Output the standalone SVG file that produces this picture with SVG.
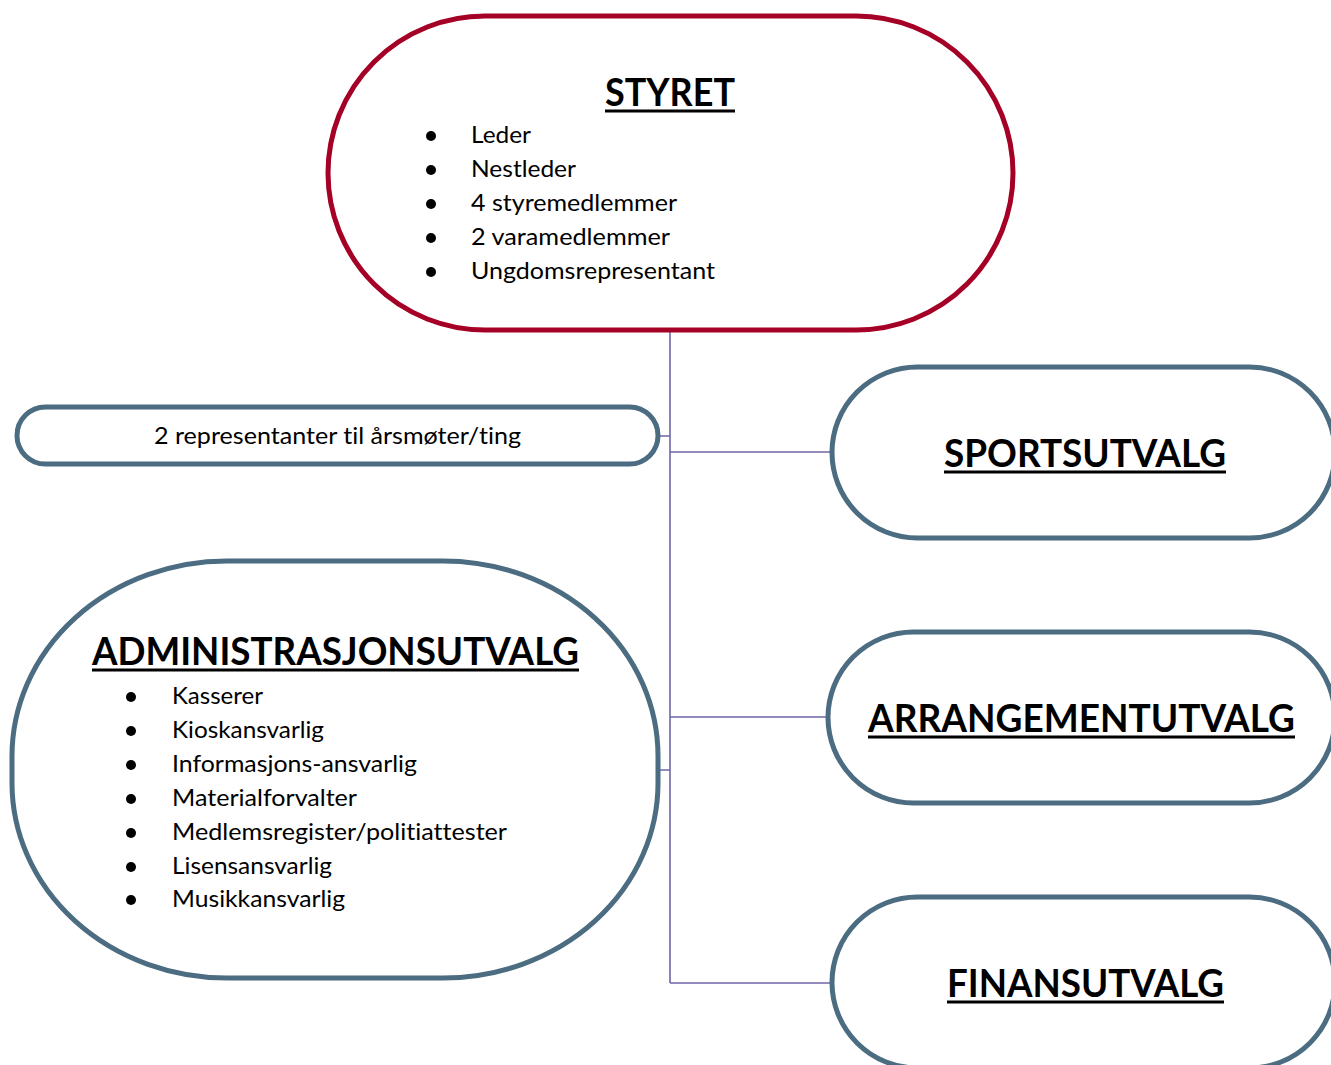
<svg xmlns="http://www.w3.org/2000/svg" width="1331" height="1065" viewBox="0 0 1331 1065">
<style>
.red{fill:#fff;stroke:#A50026;stroke-width:5}
.blue{fill:#fff;stroke:#4B6C81;stroke-width:5}
.conn{stroke:#6F67A6;stroke-width:1.6;fill:none}
.title{font-family:Lato,"Open Sans","Liberation Sans",sans-serif;font-weight:bold;font-size:38px;fill:#000;font-variant-ligatures:none}
.body{font-family:Lato,"Open Sans","Liberation Sans",sans-serif;font-size:23px;fill:#000;font-variant-ligatures:none}
.ul{stroke:#000;stroke-width:3}
.dot{fill:#000}
</style>
<rect width="1331" height="1065" fill="#fff"/>
<g id="connectors">
<path class="conn" d="M670 330 V983 M670 452 H832 M670 717 H828 M670 983 H832 M658 436 H670 M658 770 H670"/>
</g>
<g id="styret">
<rect class="red" x="328" y="16" width="685" height="314" rx="157" ry="157"/>
<text class="title" x="670" y="106" text-anchor="middle" textLength="130" lengthAdjust="spacingAndGlyphs">STYRET</text>
<line class="ul" x1="605" y1="111" x2="735" y2="111"/>
<circle class="dot" cx="431" cy="136" r="5"/>
<circle class="dot" cx="431" cy="170" r="5"/>
<circle class="dot" cx="431" cy="204" r="5"/>
<circle class="dot" cx="431" cy="238" r="5"/>
<circle class="dot" cx="431" cy="272" r="5"/>
<text class="body" x="471" y="143" textLength="60" lengthAdjust="spacingAndGlyphs">Leder</text>
<text class="body" x="471" y="177" textLength="105" lengthAdjust="spacingAndGlyphs">Nestleder</text>
<text class="body" x="471" y="211" textLength="206" lengthAdjust="spacingAndGlyphs">4 styremedlemmer</text>
<text class="body" x="471" y="245" textLength="199" lengthAdjust="spacingAndGlyphs">2 varamedlemmer</text>
<text class="body" x="471" y="279" textLength="244" lengthAdjust="spacingAndGlyphs">Ungdomsrepresentant</text>
</g>
<g id="representanter">
<rect class="blue" x="17" y="407" width="641" height="57" rx="28.5" ry="28.5"/>
<text class="body" x="154" y="444" textLength="367" lengthAdjust="spacingAndGlyphs">2 representanter til årsmøter/ting</text>
</g>
<g id="sportsutvalg">
<rect class="blue" x="832" y="367" width="503" height="171" rx="85.5" ry="85.5"/>
<text class="title" x="944" y="467" textLength="282" lengthAdjust="spacingAndGlyphs">SPORTSUTVALG</text>
<line class="ul" x1="944" y1="472" x2="1226" y2="472"/>
</g>
<g id="arrangementutvalg">
<rect class="blue" x="828" y="632" width="507" height="171" rx="85.5" ry="85.5"/>
<text class="title" x="868" y="732" textLength="427" lengthAdjust="spacingAndGlyphs">ARRANGEMENTUTVALG</text>
<line class="ul" x1="868" y1="737" x2="1295" y2="737"/>
</g>
<g id="finansutvalg">
<rect class="blue" x="832" y="897" width="503" height="171" rx="85.5" ry="85.5"/>
<text class="title" x="947" y="997" textLength="277" lengthAdjust="spacingAndGlyphs">FINANSUTVALG</text>
<line class="ul" x1="947" y1="1002" x2="1224" y2="1002"/>
</g>
<g id="administrasjonsutvalg">
<rect class="blue" x="12" y="561" width="646" height="417" rx="215" ry="195"/>
<text class="title" x="92" y="665" textLength="487" lengthAdjust="spacingAndGlyphs">ADMINISTRASJONSUTVALG</text>
<line class="ul" x1="92" y1="670" x2="579" y2="670"/>
<circle class="dot" cx="131" cy="697" r="5"/>
<circle class="dot" cx="131" cy="731" r="5"/>
<circle class="dot" cx="131" cy="765" r="5"/>
<circle class="dot" cx="131" cy="799" r="5"/>
<circle class="dot" cx="131" cy="833" r="5"/>
<circle class="dot" cx="131" cy="867" r="5"/>
<circle class="dot" cx="131" cy="900" r="5"/>
<text class="body" x="172" y="704" textLength="91" lengthAdjust="spacingAndGlyphs">Kasserer</text>
<text class="body" x="172" y="738" textLength="152" lengthAdjust="spacingAndGlyphs">Kioskansvarlig</text>
<text class="body" x="172" y="772" textLength="245" lengthAdjust="spacingAndGlyphs">Informasjons-ansvarlig</text>
<text class="body" x="172" y="806" textLength="185" lengthAdjust="spacingAndGlyphs">Materialforvalter</text>
<text class="body" x="172" y="840" textLength="335" lengthAdjust="spacingAndGlyphs">Medlemsregister/politiattester</text>
<text class="body" x="172" y="874" textLength="160" lengthAdjust="spacingAndGlyphs">Lisensansvarlig</text>
<text class="body" x="172" y="907" textLength="173" lengthAdjust="spacingAndGlyphs">Musikkansvarlig</text>
</g>
</svg>
